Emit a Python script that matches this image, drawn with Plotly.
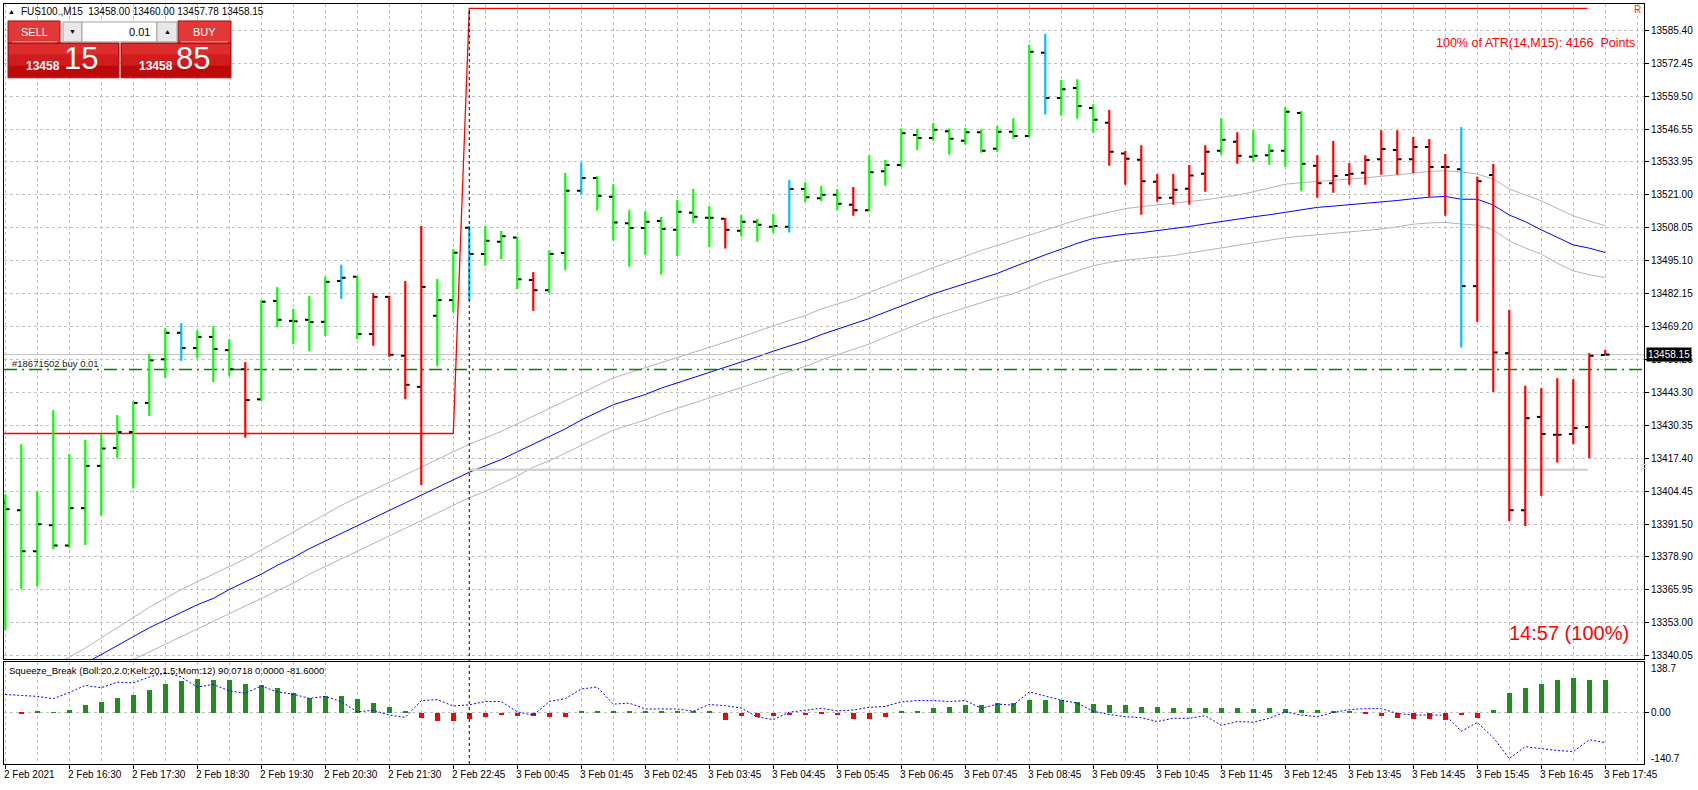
import plotly.graph_objects as go

# ---- chart canvas (pixels) ----
W, H = 1698, 790

# ---- price bars, FUS100 M15, bar 0 = 2 Feb 15:30 ----
bar_open = [13400.0, 13397.1, 13381.0, 13391.2, 13383.3, 13397.9, 13414.5, 13421.5, 13427.8, 13439.2,
            13456.3, 13466.7, 13460.7, 13465.1, 13459.9, 13452.4, 13440.6, 13479.2, 13471.4, 13471.8,
            13471.0, 13487.0, 13488.7, 13466.2, 13480.8, 13457.7, 13445.5, 13473.4, 13479.5, 13507.9,
            13497.6, 13502.4, 13504.1, 13487.4, 13483.4, 13498.0, 13522.4, 13527.4, 13520.1, 13509.7,
            13507.8, 13510.6, 13507.1, 13513.8, 13511.8, 13511.4, 13506.7, 13510.3, 13508.3, 13508.3,
            13523.1, 13519.5, 13520.9, 13516.9, 13514.8, 13530.1, 13532.5, 13544.3, 13543.1, 13545.8,
            13542.0, 13545.4, 13538.9, 13545.6, 13543.9, 13576.6, 13558.8, 13562.7, 13554.9, 13549.1,
            13537.0, 13534.6, 13526.0, 13519.7, 13523.2, 13529.1, 13538.1, 13541.7, 13535.8, 13536.4,
            13538.1, 13552.9, 13532.2, 13525.4, 13528.6, 13529.5, 13534.8, 13538.4, 13534.8, 13539.6,
            13531.7, 13530.9, 13485.0, 13528.6, 13458.7, 13397.1, 13433.7, 13426.7, 13427.0, 13429.7,
            13458.00]
bar_high = [13403.4, 13423.0, 13404.4, 13436.3, 13419.1, 13424.6, 13426.9, 13434.4, 13439.9, 13458.3,
            13468.5, 13470.5, 13467.7, 13469.3, 13464.2, 13455.2, 13479.5, 13484.6, 13476.1, 13481.1,
            13488.7, 13493.4, 13488.9, 13482.3, 13481.2, 13487.0, 13508.6, 13487.8, 13499.5, 13508.6,
            13508.6, 13506.6, 13504.4, 13490.5, 13499.1, 13529.4, 13533.5, 13528.1, 13525.0, 13514.8,
            13514.4, 13512.1, 13518.8, 13523.1, 13516.4, 13511.7, 13512.9, 13511.3, 13513.3, 13526.6,
            13525.8, 13524.3, 13523.1, 13523.9, 13536.4, 13534.5, 13546.9, 13546.6, 13549.0, 13546.9,
            13547.0, 13546.6, 13547.8, 13550.9, 13579.7, 13583.9, 13565.9, 13566.2, 13556.4, 13554.1,
            13538.0, 13540.3, 13529.0, 13529.0, 13532.5, 13540.3, 13550.9, 13545.4, 13546.2, 13540.7,
            13555.3, 13553.7, 13536.4, 13541.9, 13533.3, 13536.4, 13546.2, 13546.2, 13543.5, 13542.7,
            13536.8, 13547.4, 13527.9, 13532.9, 13475.7, 13445.9, 13445.0, 13448.9, 13448.5, 13458.7,
            13460.00]
bar_low = [13350.0, 13366.1, 13367.3, 13381.8, 13382.4, 13383.5, 13394.9, 13417.4, 13405.6, 13434.1,
           13449.0, 13455.7, 13456.7, 13447.4, 13449.8, 13425.6, 13440.0, 13469.0, 13462.2, 13459.6,
           13465.5, 13480.0, 13464.2, 13461.6, 13457.3, 13440.7, 13407.0, 13453.7, 13474.7, 13479.3,
           13493.0, 13495.6, 13483.8, 13475.3, 13482.3, 13491.4, 13521.1, 13514.6, 13502.8, 13492.6,
           13497.3, 13489.5, 13496.8, 13509.9, 13500.4, 13499.8, 13504.4, 13502.4, 13505.9, 13506.1,
           13518.0, 13518.4, 13514.8, 13512.6, 13514.3, 13524.4, 13531.8, 13538.4, 13542.0, 13536.6,
           13540.5, 13537.3, 13537.7, 13542.8, 13543.4, 13552.3, 13551.9, 13550.7, 13545.2, 13532.2,
           13524.8, 13513.0, 13518.1, 13516.9, 13516.9, 13522.0, 13536.6, 13533.0, 13533.8, 13532.6,
           13531.8, 13522.4, 13519.7, 13521.6, 13524.8, 13524.8, 13528.7, 13528.7, 13529.4, 13520.1,
           13512.6, 13460.9, 13471.0, 13443.5, 13392.9, 13390.9, 13402.7, 13415.8, 13423.0, 13417.5,
           13457.78]
bar_close = [13397.5, 13381.0, 13391.6, 13383.3, 13397.9, 13414.5, 13421.3, 13427.8, 13439.2, 13455.9,
             13466.7, 13460.7, 13465.1, 13460.3, 13452.4, 13440.3, 13478.9, 13471.8, 13471.2, 13470.9,
             13486.7, 13488.3, 13466.2, 13480.8, 13458.1, 13446.3, 13484.7, 13479.5, 13498.1, 13497.6,
             13502.8, 13504.6, 13487.7, 13483.4, 13497.6, 13522.4, 13527.4, 13520.5, 13510.0, 13507.8,
             13510.3, 13507.4, 13514.2, 13512.2, 13511.8, 13507.1, 13510.3, 13509.1, 13508.6, 13523.1,
             13519.9, 13520.9, 13517.3, 13514.8, 13529.7, 13532.5, 13545.0, 13543.1, 13546.4, 13542.8,
             13545.4, 13538.1, 13545.6, 13543.9, 13577.0, 13558.8, 13562.3, 13555.7, 13550.3, 13537.7,
             13535.0, 13526.2, 13519.7, 13522.8, 13528.4, 13537.7, 13542.4, 13536.2, 13536.2, 13538.1,
             13553.4, 13533.0, 13525.4, 13528.2, 13529.1, 13534.5, 13538.8, 13534.8, 13539.6, 13531.7,
             13531.7, 13485.0, 13526.2, 13459.0, 13397.1, 13433.2, 13427.0, 13426.7, 13429.3, 13457.7,
             13458.15]
# g = green bar, r = red bar, b = blue bar
bar_color = list("ggggggggggg" "bgggr" "gggggbgrrrr" "ggbgggrggbgg"
                 "ggggggrgggbgggrggggg" "ggggggbgggrrrrrrrgrgggg" "rrrrrrrrr" "b" "rrrrrrrrr")

# ---- moving average with its channel (None where off the chart) ----
ma_line = [None] * 5 + [
    13337.0, 13340.5, 13344.0, 13347.5, 13351.0, 13354.0, 13357.0, 13360.0, 13362.5, 13366.0,
    13369.0, 13372.0, 13375.5, 13378.5, 13382.0, 13385.0, 13388.0, 13391.0, 13394.0, 13397.0,
    13400.0, 13403.0, 13406.0, 13409.0, 13412.0, 13414.5, 13417.0, 13420.0, 13423.0, 13426.0,
    13429.0, 13432.5, 13435.5, 13438.5, 13440.5, 13442.5, 13445.0, 13447.0, 13449.0, 13451.0,
    13453.0, 13455.0, 13457.3, 13459.5, 13461.5, 13463.5, 13466.0, 13468.0, 13470.0, 13472.3,
    13474.8, 13477.3, 13479.8, 13482.0, 13484.0, 13486.0, 13487.7, 13490.0, 13492.5, 13495.0,
    13497.3, 13499.5, 13501.8, 13503.7, 13504.6, 13505.4, 13506.0, 13506.8, 13507.4, 13508.4,
    13509.4, 13510.4, 13511.3, 13512.2, 13513.0, 13514.0, 13515.0, 13515.9, 13516.4, 13516.9,
    13517.4, 13517.9, 13518.6, 13519.3, 13519.9, 13520.2, 13519.1, 13519.1, 13516.8, 13512.9,
    13510.3, 13507.1, 13504.1, 13501.2, 13499.9, 13498.2]
band_upper = [None] * 3 + [
    13336.0, 13339.5, 13343.0, 13347.0, 13351.0, 13355.0, 13359.0, 13362.5, 13366.0, 13369.0,
    13372.0, 13375.0, 13378.0, 13381.5, 13385.0, 13388.5, 13392.0, 13395.5, 13399.0, 13402.0,
    13405.0, 13408.0, 13411.0, 13414.0, 13417.0, 13420.0, 13423.0, 13425.5, 13428.0, 13431.0,
    13434.0, 13437.0, 13440.0, 13443.0, 13446.0, 13449.0, 13451.0, 13453.0, 13455.0, 13457.0,
    13459.0, 13461.0, 13463.0, 13465.0, 13467.3, 13469.5, 13471.5, 13473.5, 13476.0, 13478.0,
    13480.0, 13482.5, 13485.0, 13487.5, 13490.0, 13492.3, 13494.5, 13496.8, 13499.0, 13501.0,
    13503.0, 13505.0, 13507.0, 13509.0, 13511.0, 13512.6, 13514.0, 13515.4, 13516.2, 13516.9,
    13517.5, 13518.1, 13518.9, 13519.8, 13520.7, 13522.0, 13523.5, 13525.0, 13525.6, 13526.0,
    13526.5, 13527.0, 13527.5, 13528.0, 13528.6, 13529.3, 13530.0, 13530.3, 13529.8, 13529.0,
    13527.0, 13523.1, 13520.8, 13518.5, 13515.5, 13512.6, 13510.5, 13508.7]
band_lower = [None] * 8 + [
    13338.5, 13341.5, 13344.5, 13347.5, 13350.5, 13353.5, 13356.5, 13359.5, 13362.5, 13365.5,
    13368.5, 13372.0, 13375.0, 13378.0, 13381.0, 13384.0, 13387.0, 13390.0, 13393.0, 13396.0,
    13399.0, 13402.0, 13404.5, 13407.5, 13410.5, 13414.0, 13416.5, 13419.5, 13422.5, 13425.5,
    13428.5, 13430.5, 13432.5, 13435.0, 13437.0, 13439.0, 13441.0, 13443.0, 13445.0, 13447.3,
    13449.5, 13451.5, 13453.5, 13456.0, 13458.0, 13460.0, 13462.3, 13465.0, 13467.5, 13470.0,
    13472.5, 13474.5, 13476.5, 13478.5, 13480.5, 13482.0, 13484.5, 13487.0, 13489.0, 13491.0,
    13493.0, 13494.3, 13495.2, 13495.8, 13496.4, 13497.0, 13498.0, 13499.0, 13500.0, 13501.0,
    13502.1, 13503.0, 13504.0, 13504.6, 13505.2, 13505.8, 13506.3, 13506.9, 13507.4, 13508.3,
    13509.3, 13509.8, 13510.0, 13509.4, 13508.9, 13507.1, 13502.8, 13500.0, 13497.6, 13494.0,
    13491.0, 13489.5, 13488.4]

# ---- Squeeze_Break sub window ----
squeeze_hist = [0.0, -4.4, 1.8, 0.9, 8.0, 19.5, 30.1, 40.7, 48.7, 62.0,
                77.9, 85.9, 91.2, 88.5, 88.5, 77.9, 75.2, 67.3, 54.0, 40.7,
                46.0, 46.0, 38.1, 27.4, 14.2, 2.7, -15.0, -22.1, -22.1, -16.8,
                -12.4, -7.1, -8.9, -9.3, -13.3, -13.3, 2.7, 5.3, 5.3, 2.7,
                5.3, 5.3, 2.7, 1.8, 2.7, -21.2, -9.7, -13.3, -9.7, -8.0,
                -8.0, -5.3, -8.0, -18.6, -18.6, -13.3, 2.7, 5.3, 13.3, 15.9,
                21.2, 21.2, 26.6, 26.6, 34.5, 34.5, 34.5, 29.2, 23.9, 21.6,
                19.5, 14.2, 14.2, 11.5, 11.5, 11.5, 11.5, 11.5, 8.9, 11.5,
                8.9, 6.2, 6.2, 5.3, 1.8, -3.5, -8.9, -14.2, -16.8, -16.8,
                -19.5, -6.2, -14.2, 6.2, 54.0, 67.3, 77.9, 88.5, 93.8, 88.5,
                90.0718]
squeeze_mom = [50.4, 48.7, 45.1, 38.9, 55.8, 75.2, 69.0, 84.1, 82.3, 98.2,
               110.6, 98.2, 70.8, 77.9, 60.2, 54.0, 73.5, 57.5, 51.3, 39.8,
               45.1, 31.0, 2.7, 7.1, -6.2, -12.4, 33.6, 36.3, 18.6, 22.1,
               31.0, 31.0, 2.7, -6.5, 31.0, 38.9, 65.5, 70.8, 23.9, 26.6,
               10.6, 10.6, 10.6, 4.4, 23.0, 19.5, 13.3, -11.5, -18.6, 1.8,
               8.0, 12.4, 5.3, 8.0, 15.0, 17.7, 30.1, 33.6, 33.6, 31.0,
               33.6, 12.4, 23.9, 21.2, 57.5, 46.0, 34.5, 26.6, 4.4, -4.8,
               -10.6, -13.3, -23.9, -15.0, -15.0, -8.0, -34.5, -23.9, -25.7, -15.0,
               2.7, -6.2, -10.6, 0.9, 8.9, 11.5, 11.5, -1.8, -6.2, -6.2,
               -6.2, -50.4, -26.6, -68.1, -125.7, -92.9, -99.1, -103.5, -106.2, -74.3,
               -81.6]
sub_range = [-140.7, 138.7]

# ---- levels and objects on the chart ----
bid_price = 13458.15
order_price = 13452.3
pivot_level = 13413.0
pivot_span = [29.0, 98.9]
range_line_x = [-0.1, 28.0, 29.0, 98.9]
range_line_y = [13427.2, 13427.2, 13594.0, 13594.0]
event_bar = 29.0

# ---- axis ticks ----
ytick_vals = [13340.05, 13353.00, 13365.95, 13378.90, 13391.50, 13404.45, 13417.40, 13430.35,
              13443.30, 13456.25, 13469.20, 13482.15, 13495.10, 13508.05, 13521.00, 13533.95,
              13546.55, 13559.50, 13572.45, 13585.40]
tick_idx = list(range(0, 101, 4))
tick_text = ["2 Feb 2021", "2 Feb 16:30", "2 Feb 17:30", "2 Feb 18:30", "2 Feb 19:30", "2 Feb 20:30",
             "2 Feb 21:30", "2 Feb 22:45", "3 Feb 00:45", "3 Feb 01:45", "3 Feb 02:45", "3 Feb 03:45",
             "3 Feb 04:45", "3 Feb 05:45", "3 Feb 06:45", "3 Feb 07:45", "3 Feb 08:45", "3 Feb 09:45",
             "3 Feb 10:45", "3 Feb 11:45", "3 Feb 12:45", "3 Feb 13:45", "3 Feb 14:45", "3 Feb 15:45",
             "3 Feb 16:45", "3 Feb 17:45"]

FONT = "Liberation Sans"
GRID = "#C0C0C0"


def fx(px):
    return px / W


def fy(py):
    return 1 - py / H


x_range = [-0.08, 102.42]
price_range = [13338.6, 13595.7]
n = len(bar_close)

fig = go.Figure()

# indicator lines first so the bars sit on top
for vals, col in [(band_upper, "#B4B4B4"), (band_lower, "#B4B4B4"), (ma_line, "#0000FF")]:
    fig.add_trace(go.Scatter(x=list(range(n)), y=vals, mode="lines",
                             line=dict(color=col, width=1), hoverinfo="skip"))

fig.add_trace(go.Scatter(x=x_range, y=[bid_price, bid_price], mode="lines",
                         line=dict(color="#C0C0C0", width=1), hoverinfo="skip"))
fig.add_trace(go.Scatter(x=x_range, y=[order_price, order_price], mode="lines",
                         line=dict(color="#008000", width=1.3, dash="13px,5px,2px,5px"), hoverinfo="skip"))
fig.add_trace(go.Scatter(x=pivot_span, y=[pivot_level, pivot_level], mode="lines",
                         line=dict(color="#D3D3D3", width=2.5), hoverinfo="skip"))
fig.add_trace(go.Scatter(x=range_line_x, y=range_line_y, mode="lines",
                         line=dict(color="#FF0000", width=1.3), hoverinfo="skip"))

# bars: high-low stems by colour
palette = {"g": "#00FF00", "r": "#FF0000", "b": "#00BFFF"}
for key, col in palette.items():
    xs, ys = [], []
    for i, c in enumerate(bar_color):
        if c == key:
            xs += [i, i, None]
            ys += [bar_low[i], bar_high[i], None]
    fig.add_trace(go.Scatter(x=xs, y=ys, mode="lines", line=dict(color=col, width=2.2),
                             hoverinfo="skip"))

# open / close ticks
tx, ty = [], []
for i in range(n):
    tx += [i - 0.27, i - 0.05, None, i + 0.05, i + 0.27, None]
    ty += [bar_open[i], bar_open[i], None, bar_close[i], bar_close[i], None]
fig.add_trace(go.Scatter(x=tx, y=ty, mode="lines", line=dict(color="#000000", width=2),
                         hoverinfo="skip"))

# sub window
fig.add_trace(go.Bar(x=list(range(n)), y=squeeze_hist, width=0.3, xaxis="x2", yaxis="y2",
                     marker=dict(color=["#228B22" if v >= 0 else "#FF0000" for v in squeeze_hist],
                                 line=dict(width=0)),
                     hoverinfo="skip"))
fig.add_trace(go.Scatter(x=list(range(n)), y=squeeze_mom, mode="lines", xaxis="x2", yaxis="y2",
                         line=dict(color="#0000FF", width=1, dash="2px,2px"), hoverinfo="skip"))

axis_font = dict(family=FONT, size=10, color="#000000")
xcommon = dict(range=x_range, domain=[fx(4), fx(1644)], showline=True, linecolor="#000000",
               linewidth=1, mirror=True, zeroline=False, tick0=0, dtick=4,
               showgrid=True, gridcolor=GRID, griddash="3px,3px", gridwidth=1,
               minor=dict(tick0=2, dtick=4, showgrid=True, gridcolor=GRID, griddash="3px,3px"))

fig.update_layout(
    width=W, height=H, margin=dict(l=0, r=0, t=0, b=0),
    paper_bgcolor="#FFFFFF", plot_bgcolor="#FFFFFF", showlegend=False, bargap=0,
    xaxis=dict(anchor="y", showticklabels=False, ticks="", **xcommon),
    yaxis=dict(domain=[fy(661), fy(4)], range=price_range, side="right",
               tickvals=ytick_vals, ticktext=[f"{v:.2f}" for v in ytick_vals],
               ticks="outside", ticklen=4, tickcolor="#000000", tickfont=axis_font,
               showgrid=True, gridcolor=GRID, griddash="3px,3px", zeroline=False,
               showline=True, linecolor="#000000", linewidth=1, mirror=True),
    xaxis2=dict(anchor="y2", showticklabels=False, ticks="outside", ticklen=4,
                tickcolor="#000000", **xcommon),
    yaxis2=dict(domain=[fy(766), fy(664)], range=sub_range, side="right",
                tickvals=[0], ticktext=["0.00"], ticks="outside", ticklen=4,
                tickcolor="#000000", tickfont=axis_font,
                showgrid=True, gridcolor=GRID, griddash="3px,3px", zeroline=False,
                showline=True, linecolor="#000000", linewidth=1, mirror=True),
)

ann = []
# time labels, left aligned at their tick
for i, t in zip(tick_idx, tick_text):
    ann.append(dict(x=i, xref="x2", y=fy(776), yref="paper", text=t, showarrow=False,
                    xanchor="left", yanchor="middle", xshift=-3, font=axis_font))
# sub window scale labels
ann.append(dict(x=fx(1649), y=fy(670), xref="paper", yref="paper", text="138.7", showarrow=False,
                xanchor="left", yanchor="middle", font=axis_font))
ann.append(dict(x=fx(1649), y=fy(760), xref="paper", yref="paper", text="-140.7", showarrow=False,
                xanchor="left", yanchor="middle", font=axis_font))
ann.append(dict(x=fx(7), y=fy(672), xref="paper", yref="paper", showarrow=False,
                text="Squeeze_Break (Boll:20,2.0;Kelt:20,1.5;Mom:12) 90.0718 0.0000 -81.6000",
                xanchor="left", yanchor="middle", font=dict(family=FONT, size=9.5, color="#000000")))
# current bid label
ann.append(dict(x=fx(1646), y=bid_price, xref="paper", yref="y", text="13458.15", showarrow=False,
                xanchor="left", yanchor="middle", bgcolor="#000000", borderpad=1,
                font=dict(family=FONT, size=10, color="#FFFFFF")))
# order line label
ann.append(dict(x=fx(10), y=fy(364), xref="paper", yref="paper", text="#18671502 buy 0.01",
                showarrow=False, xanchor="left", yanchor="middle",
                font=dict(family=FONT, size=9.5, color="#202020")))
ann.append(dict(x=fx(1638), y=fy(470), xref="paper", yref="paper", text="P", showarrow=False,
                xanchor="left", yanchor="middle", font=dict(family=FONT, size=10, color="#D3D3D3")))
ann.append(dict(x=fx(1643), y=fy(10), xref="paper", yref="paper", text="R", showarrow=False,
                xanchor="right", yanchor="middle", font=dict(family=FONT, size=10, color="#FF3300")))
ann.append(dict(x=fx(1637), y=fy(43), xref="paper", yref="paper",
                text="100% of ATR(14,M15): 4166  Points", showarrow=False,
                xanchor="right", yanchor="middle", font=dict(family=FONT, size=12.5, color="#FF0000")))
ann.append(dict(x=fx(1631), y=fy(635), xref="paper", yref="paper", text="14:57 (100%)",
                showarrow=False, xanchor="right", yanchor="middle",
                font=dict(family=FONT, size=20, color="#FF0000")))
# header line
ann.append(dict(x=fx(11), y=fy(12), xref="paper", yref="paper", text="▲", showarrow=False,
                xanchor="center", yanchor="middle", font=dict(family=FONT, size=7, color="#000000")))
ann.append(dict(x=fx(19), y=fy(12), xref="paper", yref="paper",
                text="FUS100.,M15  13458.00 13460.00 13457.78 13458.15", showarrow=False,
                xanchor="left", yanchor="middle", font=dict(family=FONT, size=10, color="#000000")))

# one-click trading panel
shapes = []


def box(x0, y0, x1, y1, fill, line="#A01010"):
    shapes.append(dict(type="rect", xref="paper", yref="paper", x0=fx(x0), x1=fx(x1),
                       y0=fy(y1), y1=fy(y0), fillcolor=fill, line=dict(color=line, width=1),
                       layer="above"))


for x0, x1 in [(8, 119), (121, 231)]:
    box(x0, 43, x1, 78, "#C81414")
    box(x0 + 1, 44, x1 - 1, 55, "#DC2C2C", line="rgba(0,0,0,0)")
    box(x0 + 1, 55, x1 - 1, 66, "#D01C1C", line="rgba(0,0,0,0)")
    box(x0 + 1, 66, x1 - 1, 77, "#BC0A0A", line="rgba(0,0,0,0)")
box(8, 21, 60, 43, "#E23838")
box(178, 21, 231, 43, "#E23838")
box(63, 22, 82, 42, "#E8E8E8", line="#A0A0A0")
box(82, 22, 157, 42, "#FFFFFF", line="#A0A0A0")
box(157, 22, 177, 42, "#E8E8E8", line="#A0A0A0")
for x0, x1 in [(12, 57), (181, 228)]:
    shapes.append(dict(type="line", xref="paper", yref="paper", x0=fx(x0), x1=fx(x1),
                       y0=fy(42), y1=fy(42), line=dict(color="#F4A0A0", width=1), layer="above"))
# event marker through both panes
shapes.append(dict(type="line", xref="x", yref="paper", x0=event_bar, x1=event_bar,
                   y0=fy(766), y1=fy(9), line=dict(color="#000000", width=1, dash="3px,3px"),
                   layer="above"))


def label(x, y, text, size, anchor="center", bold=False, color="#FFFFFF"):
    t = f"<b>{text}</b>" if bold else text
    ann.append(dict(x=fx(x), y=fy(y), xref="paper", yref="paper", text=t, showarrow=False,
                    xanchor=anchor, yanchor="middle", font=dict(family=FONT, size=size, color=color)))


label(34, 32, "SELL", 11)
label(204, 32, "BUY", 11)
label(152, 32, "0.01", 11, anchor="right", color="#000000")
label(72.5, 32, "▼", 7, color="#000000")
label(167, 32, "▲", 7, color="#000000")
label(43, 66, "13458", 12, bold=True)
label(81, 59, "15", 31)
label(156, 66, "13458", 12, bold=True)
label(193, 59, "85", 31)

fig.update_layout(annotations=ann, shapes=shapes)

# page body has a default margin; drop it so the chart fills the window exactly
fig.write_html("out.html", config={"displayModeBar": False},
               post_script="document.body.style.margin='0px';")
